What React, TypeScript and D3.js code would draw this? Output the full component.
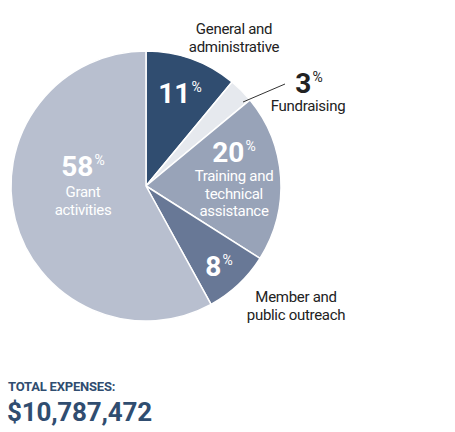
import React from "react";
import * as d3 from "d3";

const categories = ["General and administrative", "Fundraising", "Training and technical assistance", "Member and public outreach", "Grant activities"];
const values = [11, 3, 20, 8, 58];
const colors = ["#304d70", "#e6e9ee", "#98a3b8", "#687896", "#b8bfcf"];
const totalLabel = "TOTAL EXPENSES:";
const totalValue = "$10,787,472";

const W = 455, H = 432;
const cx = 146, cy = 186, R = 135;
const font = "Roboto, 'Open Sans', sans-serif";

export default function App() {
  const pie = d3.pie<number>().sort(null).value((d) => d)(values);
  const arc = d3.arc<d3.PieArcDatum<number>>().innerRadius(0).outerRadius(R);

  const pct = (v: number, x: number, y: number, fill: string) => (
    <text x={x} y={y} textAnchor="middle" fill={fill} fontFamily={font} fontWeight={700} fontSize={28}>
      {v}
      <tspan fontSize={14} fontWeight={400} dx={1} dy={-11}>%</tspan>
    </text>
  );
  const lines = (ls: string[], x: number, y: number, fill: string, lh = 17.5) => (
    <text x={x} y={y} textAnchor="middle" fill={fill} fontFamily={font} fontSize={15} letterSpacing={-0.3}>
      {ls.map((l, i) => (
        <tspan key={i} x={x} dy={i === 0 ? 0 : lh}>{l}</tspan>
      ))}
    </text>
  );

  return (
    <svg width={W} height={H} style={{ position: "absolute", left: 0, top: 0 }}>
      <g transform={`translate(${cx},${cy})`}>
        {pie.map((p, i) => (
          <path key={i} d={arc(p) || ""} fill={colors[i]} stroke="#fff" strokeWidth={1.5} strokeLinejoin="round" />
        ))}
      </g>
      {lines(["General and", "administrative"], 234, 34, "#222", 17.5)}
      {pct(values[0], 180, 103, "#fff")}
      <line x1={243} y1={102} x2={285} y2={84} stroke="#333" strokeWidth={1} />
      {pct(values[1], 309, 93, "#222")}
      {lines(["Fundraising"], 308, 111, "#222")}
      {pct(values[2], 234, 162, "#fff")}
      {lines(["Training and", "technical", "assistance"], 234, 181, "#fff")}
      {pct(values[3], 219, 276, "#fff")}
      {lines(["Member and", "public outreach"], 296, 302, "#222")}
      {pct(values[4], 83, 176, "#fff")}
      {lines(["Grant", "activities"], 83, 197, "#fff")}
      <text x={8} y={391} fill="#304d70" fontFamily={font} fontWeight={700} fontSize={13} letterSpacing={-0.2}>{totalLabel}</text>
      <text x={7} y={421} fill="#304d70" fontFamily={font} fontWeight={700} fontSize={26} letterSpacing={-0.2}>{totalValue}</text>
    </svg>
  );
}
